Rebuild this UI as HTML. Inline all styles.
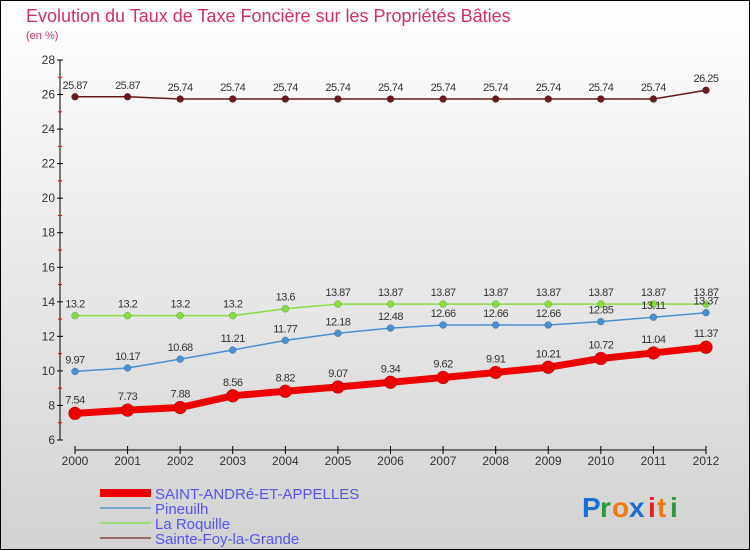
<!DOCTYPE html>
<html><head><meta charset="utf-8"><style>
body{margin:0;width:750px;height:550px;overflow:hidden}
svg{display:block}
text{font-family:"Liberation Sans",sans-serif}
</style></head><body>
<svg id="c" width="750" height="550" xmlns="http://www.w3.org/2000/svg">
<defs><linearGradient id="bg" x1="0" y1="0" x2="0" y2="1"><stop offset="0" stop-color="#ffffff"/><stop offset="1" stop-color="#d2d2d2"/></linearGradient></defs>
<rect x="0.5" y="0.5" width="749" height="549" fill="url(#bg)" stroke="#000"/>
<text x="26" y="22" font-size="18" fill="#d0306a">Evolution du Taux de Taxe Foncière sur les Propriétés Bâties</text>
<text x="26" y="39" font-size="11" fill="#d0306a">(en %)</text>
<g id="axes"></g><g id="series"></g><g id="legend"></g>
<g font-size="28" font-weight="bold">
<text x="582" y="517" fill="#1a6fd0">P</text><text x="600" y="517" fill="#2a9a3a">r</text><text x="612" y="517" fill="#f07a10">o</text><text x="629" y="517" fill="#1a6fd0">x</text><text x="648" y="517" fill="#e02020">i</text><text x="657" y="517" fill="#f07a10">t</text><text x="670" y="517" fill="#2a9a3a">i</text>
</g>
</svg>
<script>
const years=["2000","2001","2002","2003","2004","2005","2006","2007","2008","2009","2010","2011","2012"];
const yTicks=[6,8,10,12,14,16,18,20,22,24,26,28];
const saint=[7.54,7.73,7.88,8.56,8.82,9.07,9.34,9.62,9.91,10.21,10.72,11.04,11.37];
const pineuilh=[9.97,10.17,10.68,11.21,11.77,12.18,12.48,12.66,12.66,12.66,12.85,13.11,13.37];
const roquille=[13.2,13.2,13.2,13.2,13.6,13.87,13.87,13.87,13.87,13.87,13.87,13.87,13.87];
const sainte=[25.87,25.87,25.74,25.74,25.74,25.74,25.74,25.74,25.74,25.74,25.74,25.74,26.25];
const NS="http://www.w3.org/2000/svg";
const X=i=>75+i*(706-75)/(years.length-1);
const Y=v=>440-(v-6)*(380/22);
function mk(tag,attrs,parent){const e=document.createElementNS(NS,tag);for(const k in attrs)e.setAttribute(k,attrs[k]);parent.appendChild(e);return e;}
const ax=document.getElementById('axes');
let yl=mk('line',{x1:60,y1:60,x2:60,y2:440,stroke:'#000'},ax);


yTicks.forEach(v=>{
  mk('line',{x1:57,y1:Y(v),x2:63,y2:Y(v),stroke:'#000'},ax);
  if(v<28){mk('line',{x1:58,y1:Y(v+1),x2:62,y2:Y(v+1),stroke:'#e00'},ax);}
  const t=mk('text',{x:55,y:Y(v)+4,'font-size':12,'text-anchor':'end',fill:'#333'},ax);t.textContent=v;
  
  
});
let xl=mk('line',{x1:75,y1:450,x2:706,y2:450,stroke:'#000'},ax);


years.forEach((y,i)=>{
  mk('line',{x1:X(i),y1:446,x2:X(i),y2:454,stroke:'#000'},ax);
  const t=mk('text',{x:X(i),y:465,'font-size':12,'text-anchor':'middle',fill:'#333'},ax);t.textContent=y;
  
  
});
const sg=document.getElementById('series');
function draw(data,name,color,lw,r,lblDy){
  const g=mk('g',{},sg);
  
  
  mk('polyline',{points:data.map((v,i)=>X(i)+','+Y(v)).join(' '),fill:'none',stroke:color,'stroke-width':lw,'stroke-linejoin':'round'},g);
  data.forEach((v,i)=>{
    const c=mk('circle',{cx:X(i),cy:Y(v),r:r,fill:color,stroke:'rgba(0,0,0,0.3)','stroke-width':0.5},g);
    
    
    const t=mk('text',{x:X(i),y:Y(v)+lblDy,'font-size':11,'text-anchor':'middle',fill:'#333','letter-spacing':'-0.5'},g);t.textContent=v;
    
    
  });
}
draw(sainte,'series-sainte-foy','#6a1a1a',1.5,3.5,-8);
draw(roquille,'series-la-roquille','#88dd44',1.5,3.5,-8);
draw(pineuilh,'series-pineuilh','#4a90d0',1.5,3.5,-8);
draw(saint,'series-saint-andre','#ee0000',7,6.5,-10);
const lg=document.getElementById('legend');
const ent=[["SAINT-ANDRé-ET-APPELLES","#ee0000",8],["Pineuilh","#78aad0",2],["La Roquille","#99dd77",2],["Sainte-Foy-la-Grande","#9a6a6a",2]];
ent.forEach((e,i)=>{
  const y=493+i*15;
  const g=mk('g',{},lg);
  
  
  mk('line',{x1:100,y1:y,x2:151,y2:y,stroke:e[1],'stroke-width':e[2]},g);
  const t=mk('text',{x:155,y:y+6,'font-size':15,fill:'#5555ee'},g);t.textContent=e[0];
});
</script>
</body></html>
